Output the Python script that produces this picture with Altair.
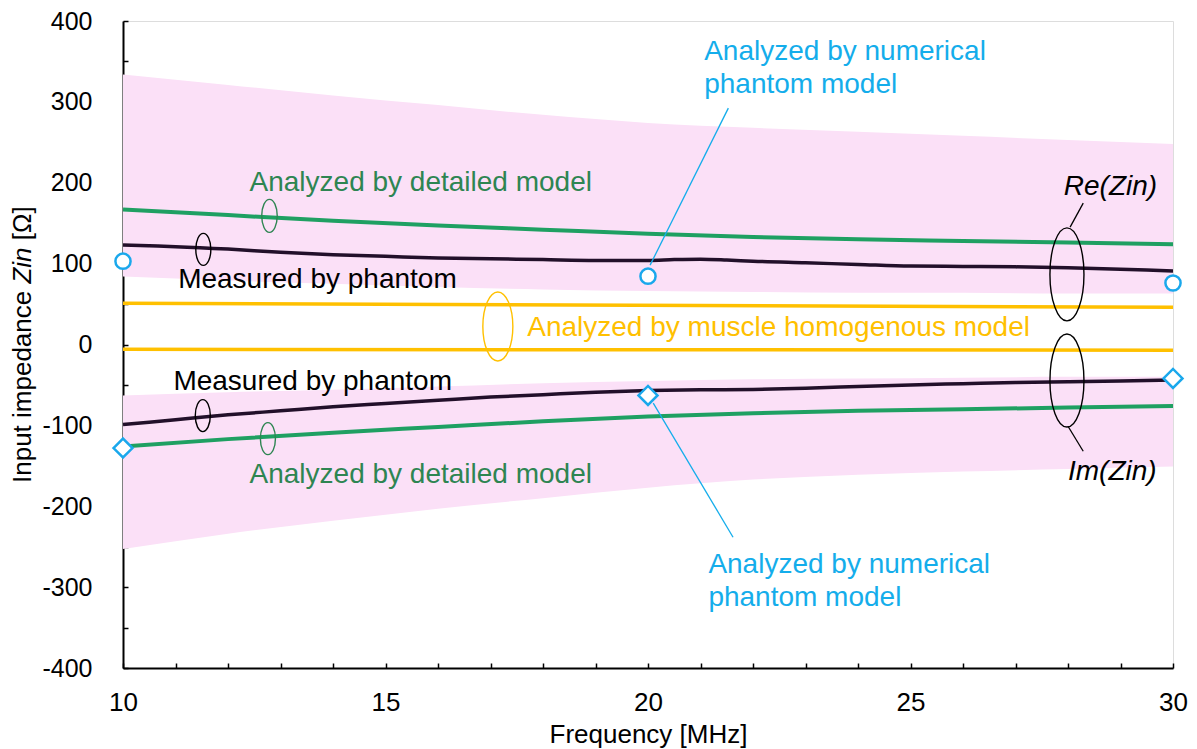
import altair as alt
import pandas as pd

# ---------------- data ----------------
band_f = [10, 12, 14, 16, 18, 20, 22, 24, 26, 28, 30]
re_band_hi = [334, 321, 308, 296, 284, 274, 268, 263, 258, 253, 248]
re_band_lo = [84, 79, 75, 71, 68, 66, 65, 64, 64, 63, 63]
im_band_hi = [-63, -59, -56, -52, -48, -45, -43, -42, -41, -40, -40]
im_band_lo = [-253, -234, -218, -203, -190, -177, -167, -161, -157, -154, -151]

detailed_f = [10, 12, 14, 16, 18, 20, 22, 24, 26, 28, 30]
detailed_re = [167, 160, 153, 147, 142, 137, 133, 130, 128, 126, 124]
detailed_im = [-126, -117, -109, -102, -95, -89, -85, -82, -80, -78, -76]

meas_re_f = [10, 10.5, 11, 12, 13, 14, 15, 16, 17, 18, 19, 20, 20.5, 21, 21.5, 22, 23, 24, 25, 26, 27, 28, 29, 30]
meas_re = [123, 122, 121, 118, 114, 111, 109, 107, 106, 105, 104, 104, 105, 105.5, 104.5, 103, 101, 99, 97, 96.5, 96, 95, 93, 91]
meas_im_f = [10, 11, 12, 13, 14, 15, 16, 17, 18, 19, 20, 21, 22, 23, 24, 25, 26, 27, 28, 29, 30]
meas_im = [-99, -93, -87, -82, -77, -73, -69, -65, -62, -59, -57, -56, -55.5, -54, -52, -50, -48.5, -47, -46, -45, -44]

muscle_f = [10, 30]
muscle_re = [51, 46]
muscle_im = [-6, -7]

phantom_f = [10, 20, 30]
phantom_re = [103, 84.5, 76]
phantom_im = [-128, -63, -42]

# annotations (data coordinates)
ann_text = ["Analyzed by detailed model", "Analyzed by detailed model",
            "Measured by phantom", "Measured by phantom",
            "Analyzed by muscle homogenous model",
            "Analyzed by numerical", "phantom model",
            "Analyzed by numerical", "phantom model"]
ann_f = [12.41, 12.41, 11.05, 10.96, 17.70, 21.07, 21.07, 21.15, 21.15]
ann_v = [199.5, -161.7, 79.5, -46.6, 20.2, 361.7, 320.8, -272.8, -313.7]
ann_color = ["#2E8552", "#2E8552", "#000000", "#000000", "#FFC000",
             "#14ADEB", "#14ADEB", "#14ADEB", "#14ADEB"]

ital_text = ["Re(Zin)", "Im(Zin)"]
ital_f = [27.92, 28.0]
ital_v = [194.7, -158.0]

# ellipses: centre, half-width/half-height ratio, height (px)
ell_f = [11.53, 12.79, 11.52, 12.76, 17.14, 27.98, 27.98]
ell_v = [117.6, 159.1, -87.9, -116.4, 22.3, 86.7, -44.6]
ell_ratio = [0.47, 0.47, 0.47, 0.47, 0.435, 0.366, 0.366]
ell_h = [32, 33, 32, 32, 69, 93, 93]
ell_color = ["#000000", "#2E8552", "#000000", "#2E8552", "#FFC000", "#000000", "#000000"]

# leader lines
lead_f = [21.53, 20.10, 28.04, 28.0]
lead_v = [292.3, -72.5, 145.1, -101.1]
lead_f2 = [20.04, 21.62, 28.29, 28.29]
lead_v2 = [98.1, -238.3, 174.8, -132.0]
lead_color = ["#14ADEB", "#14ADEB", "#000000", "#000000"]

# ---------------- build ----------------
FONT = "Liberation Sans"
PINK = "#FBE0F7"
GREEN = "#1FA062"
BLACK_LINE = "#22102A"
YELLOW = "#FFC000"
CYAN = "#1AA8EC"
FS = 28
AFS = 26

xs = alt.Scale(domain=[10, 30], nice=False, zero=False)
ys = alt.Scale(domain=[-400, 400], nice=False, zero=False)

x_axis = alt.Axis(values=list(range(10, 31)),
                  labelExpr="datum.value % 5 === 0 ? '' + datum.value : ''",
                  tickSize=alt.ExprRef(expr="-5"), tickColor="black", tickWidth=1.5,
                  domainColor="black", domainWidth=2, grid=False,
                  labelFontSize=AFS, labelFont=FONT, labelColor="black",
                  labelFlush=False, labelOverlap=False, labelPadding=26,
                  title="Frequency [MHz]", titleFont=FONT, titleFontSize=AFS,
                  titleFontWeight="normal", titleColor="black", titlePadding=6)
y_axis = alt.Axis(values=list(range(-400, 401, 50)),
                  labelExpr="datum.value % 100 === 0 ? '' + datum.value : ''",
                  tickSize=alt.ExprRef(expr="-5"), tickColor="black", tickWidth=1.5,
                  domainColor="black", domainWidth=2, grid=False,
                  labelFontSize=25, labelFont=FONT, labelColor="black",
                  labelFlush=False, labelOverlap=False, labelPadding=36,
                  title=None)

band_df = pd.DataFrame({"f": band_f, "rhi": re_band_hi, "rlo": re_band_lo,
                        "ihi": im_band_hi, "ilo": im_band_lo})
band_re = alt.Chart(band_df).mark_area(color=PINK, interpolate="monotone").encode(
    x=alt.X("f:Q", scale=xs, axis=x_axis), y=alt.Y("rhi:Q", scale=ys, axis=y_axis), y2="rlo:Q")
band_im = alt.Chart(band_df).mark_area(color=PINK, interpolate="monotone").encode(
    x="f:Q", y="ihi:Q", y2="ilo:Q")

def line(fv, vv, color, width=4):
    df = pd.DataFrame({"f": fv, "v": vv})
    return alt.Chart(df).mark_line(color=color, strokeWidth=width, interpolate="monotone").encode(
        x="f:Q", y="v:Q")

lines = [
    line(muscle_f, muscle_re, YELLOW, 3.5),
    line(muscle_f, muscle_im, YELLOW, 3.5),
    line(detailed_f, detailed_re, GREEN, 4),
    line(detailed_f, detailed_im, GREEN, 4),
    line(meas_re_f, meas_re, BLACK_LINE, 3.5),
    line(meas_im_f, meas_im, BLACK_LINE, 3.5),
]

lead_df = pd.DataFrame({"f": lead_f, "v": lead_v, "f2": lead_f2, "v2": lead_v2, "c": lead_color})
leaders = alt.Chart(lead_df).mark_rule(strokeWidth=1.3).encode(
    x="f:Q", y="v:Q", x2="f2:Q", y2="v2:Q", color=alt.Color("c:N", scale=None))

ph_df = pd.DataFrame({"f": phantom_f, "re": phantom_re, "im": phantom_im})
circles = alt.Chart(ph_df).mark_point(shape="circle", filled=True, fill="white", stroke=CYAN,
                                      strokeWidth=2.5, size=230, opacity=1).encode(x="f:Q", y="re:Q")
diamonds = alt.Chart(ph_df).mark_point(shape="diamond", filled=True, fill="white", stroke=CYAN,
                                       strokeWidth=2.5, size=360, opacity=1).encode(x="f:Q", y="im:Q")

ell_path = [f"M 0 -1 A {r} 1 0 1 1 0 1 A {r} 1 0 1 1 0 -1 Z" for r in ell_ratio]
ell_size = [h * h for h in ell_h]
ell_df = pd.DataFrame({"f": ell_f, "v": ell_v, "p": ell_path, "s": ell_size, "c": ell_color})
ellipses = alt.Chart(ell_df).mark_point(filled=False, strokeWidth=1.4, opacity=1).encode(
    x="f:Q", y="v:Q", shape=alt.Shape("p:N", scale=None), size=alt.Size("s:Q", scale=None),
    color=alt.Color("c:N", scale=None))

ann_df = pd.DataFrame({"t": ann_text, "f": ann_f, "v": ann_v, "c": ann_color})
texts = alt.Chart(ann_df).mark_text(align="left", baseline="middle", font=FONT, fontSize=FS).encode(
    x="f:Q", y="v:Q", text="t:N", color=alt.Color("c:N", scale=None))
ital_df = pd.DataFrame({"t": ital_text, "f": ital_f, "v": ital_v})
itexts = alt.Chart(ital_df).mark_text(align="left", baseline="middle", font=FONT, fontSize=FS,
                                      fontStyle="italic", color="black").encode(
    x="f:Q", y="v:Q", text="t:N")

# y-axis title with italic "Zin"
TF = 26
ystart = 462
dummy = pd.DataFrame({"a": [0]})
t1 = alt.Chart(dummy).mark_text(text="Input impedance", angle=270, align="left", baseline="middle",
                                font=FONT, fontSize=TF, color="black").encode(
    x=alt.value(-100), y=alt.value(ystart))
t2 = alt.Chart(dummy).mark_text(text="Zin", angle=270, align="left", baseline="middle",
                                font=FONT, fontSize=TF, fontStyle="italic", color="black").encode(
    x=alt.value(-100), y=alt.value(ystart - (7.393 + 0.278) * TF))
t3 = alt.Chart(dummy).mark_text(text="[Ω]", angle=270, align="left", baseline="middle",
                                font=FONT, fontSize=TF, color="black").encode(
    x=alt.value(-100), y=alt.value(ystart - (7.671 + 1.389 + 0.278) * TF))

chart = alt.layer(band_re, band_im, *lines, leaders, circles, diamonds, ellipses, texts, itexts,
                  t1, t2, t3).properties(
    width=1050, height=647,
    autosize=alt.AutoSizeParams(type="none"),
    padding={"left": 115, "top": 13, "right": 16, "bottom": 80},
).configure_view(stroke="black", strokeWidth=1).configure(background="white")

chart.save("out.html", embed_options={"renderer": "svg", "actions": False})
